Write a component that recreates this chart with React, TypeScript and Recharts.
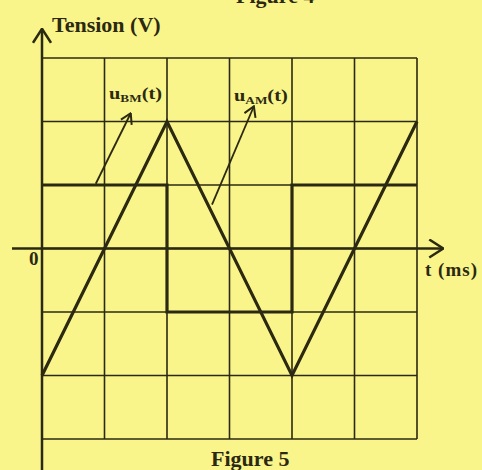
import { ComposedChart, Line, XAxis, YAxis, ReferenceLine } from "recharts"

// grid divisions (time in divisions, tension in divisions)
const gridT = [0, 1, 2, 3, 4, 5, 6]
const gridV = [-3, -2, -1, 0, 1, 2, 3]

// u_BM(t): triangle wave
const uBM = [
  { t: 0, v: -2 },
  { t: 2, v: 2 },
  { t: 4, v: -2 },
  { t: 6, v: 2 },
]

// u_AM(t): square wave
const uAM = [
  { t: 0, v: 1 },
  { t: 2, v: 1 },
  { t: 2, v: -1 },
  { t: 4, v: -1 },
  { t: 4, v: 1 },
  { t: 6, v: 1 },
]

// axes with arrows, and the two label pointers
const xAxisSeg = [{ x: -0.48, y: 0 }, { x: 6.42, y: 0 }]
const yAxisSeg = [{ x: 0, y: -3.6 }, { x: 0, y: 3.46 }]
const pointerBM = [{ x: 0.86, y: 1.02 }, { x: 1.42, y: 2.13 }]
const pointerAM = [{ x: 2.72, y: 0.69 }, { x: 3.39, y: 2.24 }]

const ink = "#2b2912"
const paper = "#faf58a"
const font = "'Liberation Serif', 'Times New Roman', serif"

const txt = (left: number, top: number, size: number, sx = 1): React.CSSProperties => ({
  position: "absolute",
  left,
  top,
  fontFamily: font,
  fontWeight: 700,
  fontSize: size,
  lineHeight: 1,
  color: ink,
  whiteSpace: "nowrap",
  transform: `scaleX(${sx})`,
  transformOrigin: "left top",
})

const sub: React.CSSProperties = { fontSize: 11, verticalAlign: "-3px", lineHeight: 1 }

export default function App() {
  return (
    <div style={{ position: "absolute", left: 0, top: 0, width: 482, height: 470, background: paper, overflow: "hidden" }}>
      <ComposedChart
        width={482}
        height={470}
        margin={{ top: 58, right: 65, bottom: 31, left: 42 }}
      >
        <defs>
          <marker id="axisArrow" viewBox="0 0 16 20" refX="15" refY="10" markerWidth="16" markerHeight="20" markerUnits="userSpaceOnUse" orient="auto">
            <path d="M1,1 L15,10 L1,19" fill="none" stroke={ink} strokeWidth={2.5} />
          </marker>
          <marker id="smallArrow" viewBox="0 0 12 14" refX="11" refY="7" markerWidth="12" markerHeight="14" markerUnits="userSpaceOnUse" orient="auto">
            <path d="M1,1 L11,7 L1,13" fill="none" stroke={ink} strokeWidth={2} />
          </marker>
        </defs>
        <XAxis dataKey="t" type="number" domain={[0, 6]} hide allowDuplicatedCategory={false} />
        <YAxis type="number" domain={[-3, 3]} hide />
        {gridT.map((t) => (
          <ReferenceLine key={`gx${t}`} x={t} stroke={ink} strokeWidth={1.6} ifOverflow="visible" />
        ))}
        {gridV.map((v) => (
          <ReferenceLine key={`gy${v}`} y={v} stroke={ink} strokeWidth={1.6} ifOverflow="visible" />
        ))}
        <ReferenceLine segment={xAxisSeg} stroke={ink} strokeWidth={2.5} ifOverflow="visible" markerEnd="url(#axisArrow)" />
        <ReferenceLine segment={yAxisSeg} stroke={ink} strokeWidth={2.5} ifOverflow="visible" markerEnd="url(#axisArrow)" />
        <ReferenceLine segment={pointerBM} stroke={ink} strokeWidth={1.8} ifOverflow="visible" markerEnd="url(#smallArrow)" />
        <ReferenceLine segment={pointerAM} stroke={ink} strokeWidth={1.8} ifOverflow="visible" markerEnd="url(#smallArrow)" />
        <Line data={uAM} dataKey="v" type="linear" stroke={ink} strokeWidth={3.2} dot={false} isAnimationActive={false} />
        <Line data={uBM} dataKey="v" type="linear" stroke={ink} strokeWidth={3.2} dot={false} isAnimationActive={false} />
      </ComposedChart>
      <div style={txt(236, -15, 22)}>Figure 4</div>
      <div style={txt(52, 14, 22)}>Tension (V)</div>
      <div style={txt(109, 85, 17, 1.2)}>
        u<sub style={sub}>BM</sub>(t)
      </div>
      <div style={txt(234, 87, 17, 1.2)}>
        u<sub style={sub}>AM</sub>(t)
      </div>
      <div style={txt(29, 249, 19)}>0</div>
      <div style={{ ...txt(425, 260, 19), letterSpacing: 1 }}>t (ms)</div>
      <div style={txt(211, 448, 22)}>Figure 5</div>
    </div>
  )
}
